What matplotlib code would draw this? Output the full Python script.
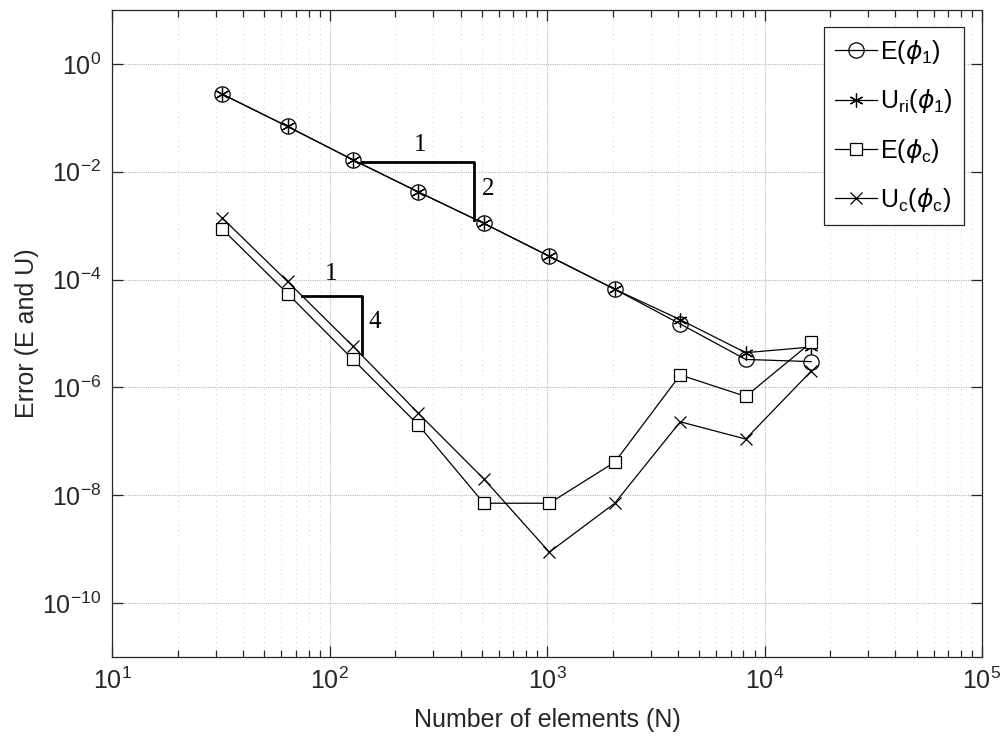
import numpy as np
import matplotlib
matplotlib.use('Agg')
import matplotlib.pyplot as plt
from matplotlib.ticker import LogLocator, NullLocator, NullFormatter

plt.rcParams['font.family'] = ['Liberation Sans', 'DejaVu Sans']
plt.rcParams['mathtext.fontset'] = 'custom'
plt.rcParams['mathtext.rm'] = 'Liberation Sans'
plt.rcParams['mathtext.it'] = 'DejaVu Sans:italic'
plt.rcParams['mathtext.bf'] = 'Liberation Sans:bold'
plt.rcParams['axes.unicode_minus'] = False

# number of elements
N = [32, 64, 128, 256, 512, 1024, 2048, 4096, 8192, 16384]

# errors
E_phi1 = [0.275, 0.069, 0.0166, 0.0042, 0.0011, 2.7e-4, 6.6e-5, 1.5e-5, 3.3e-6, 3.0e-6]
U_ri_phi1 = [0.275, 0.069, 0.0166, 0.0042, 0.0011, 2.7e-4, 6.6e-5, 1.8e-5, 4.4e-6, 5.6e-6]
E_phic = [8.7e-4, 5.5e-5, 3.3e-6, 2.0e-7, 7.1e-9, 7.1e-9, 4.1e-8, 1.7e-6, 6.8e-7, 6.8e-6]
U_c_phic = [1.4e-3, 9.2e-5, 5.8e-6, 3.3e-7, 2.0e-8, 8.8e-10, 7.1e-9, 2.3e-7, 1.1e-7, 2.0e-6]

labels = [r'E($\phi_\mathrm{1}$)', r'U$_{\mathrm{ri}}$($\phi_\mathrm{1}$)',
          r'E($\phi_\mathrm{c}$)', r'U$_\mathrm{c}$($\phi_\mathrm{c}$)']

# slope triangles (x0, x1, y_top, y_bottom)
tri_top = [141, 461, 0.0149, 1.26e-3]
tri_low = [74.8, 141, 4.9e-5, 4.1e-6]

txt = '#262626'
fig = plt.figure(figsize=(10.02, 7.42), dpi=100)
ax = fig.add_axes([0.112, 0.1146, 0.868, 0.872])

asterisk = (6, 2, 0)
ax.plot(N, E_phi1, '-o', color='k', lw=0.9, ms=11, mfc='none', mec='k', mew=0.9, label=labels[0])
ax.plot(N, U_ri_phi1, '-', marker=asterisk, color='k', lw=0.9, ms=10, mec='k', mew=0.9, label=labels[1])
ax.plot(N, E_phic, '-s', color='k', lw=0.9, ms=9, mfc='white', mec='k', mew=0.9, label=labels[2])
ax.plot(N, U_c_phic, '-x', color='k', lw=0.9, ms=9, mec='k', mew=0.9, label=labels[3])

# slope triangles
for t in (tri_top, tri_low):
    ax.plot([t[0], t[1], t[1]], [t[2], t[2], t[3]], color='k', lw=2)
ax.text(261, 0.0316, '1', family='Liberation Serif', fontsize=18, ha='center', va='center')
ax.text(536, 4.7e-3, '2', family='Liberation Serif', fontsize=18, ha='center', va='center')
ax.text(101.6, 1.24e-4, '1', family='Liberation Serif', fontsize=18, ha='center', va='center')
ax.text(162, 1.6e-5, '4', family='Liberation Serif', fontsize=18, ha='center', va='center')

ax.set_xscale('log')
ax.set_yscale('log')
ax.set_xlim(10, 1e5)
ax.set_ylim(1e-11, 10)
ax.set_yticks([1e-10, 1e-8, 1e-6, 1e-4, 1e-2, 1e0])
ax.yaxis.set_minor_locator(NullLocator())
ax.xaxis.set_minor_locator(LogLocator(base=10, subs=np.arange(2, 10)))
ax.xaxis.set_minor_formatter(NullFormatter())

ax.grid(True, which='major', color='#b8b8b8', linestyle=(0, (1, 1)), linewidth=0.8)
ax.grid(True, which='minor', axis='x', color='#d2d2d2', linestyle=(0, (1, 4)), linewidth=0.7)

ax.tick_params(which='both', direction='in', top=True, right=True, colors=txt, labelsize=18, width=0.9)
ax.tick_params(which='major', length=8, pad=8)
ax.tick_params(which='minor', length=5)
for s in ax.spines.values():
    s.set_color(txt)
    s.set_linewidth(0.9)

ax.set_xlabel('Number of elements (N)', fontsize=18, color=txt, labelpad=10)
ax.set_ylabel('Error (E and U)', fontsize=18, color=txt, labelpad=2)

leg = ax.legend(loc='upper right', fontsize=18, frameon=True, fancybox=False, handlelength=1.7,
                handletextpad=0.1, borderpad=0.45, labelspacing=0.85, borderaxespad=0,
                bbox_to_anchor=(0.9793, 0.9737))
leg.get_frame().set_edgecolor(txt)
leg.get_frame().set_linewidth(0.9)
leg.get_frame().set_alpha(1)

fig.savefig('out.png', dpi=100)
